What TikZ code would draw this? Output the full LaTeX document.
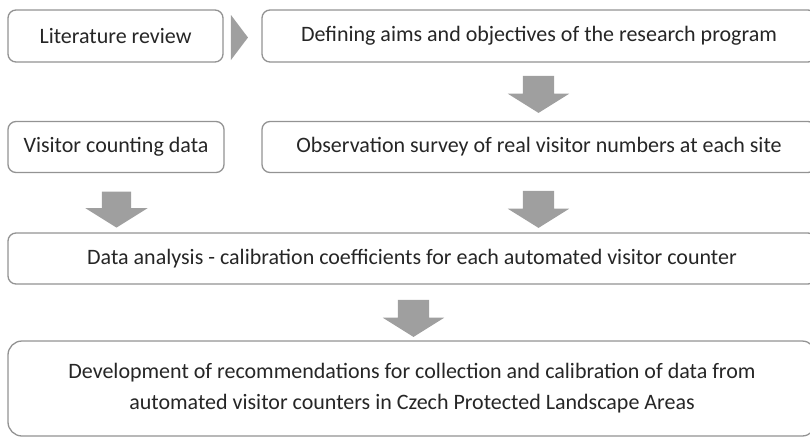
\documentclass[tikz,border=0pt]{standalone}
\usepackage{fontspec}
\setmainfont{Carlito}
\usepackage{tikz}
\usetikzlibrary{shapes,arrows,positioning}

\begin{document}
\begin{tikzpicture}[x=1pt, y=-1pt]
  % Research workflow
  \tikzstyle{stage} = [rectangle, rounded corners=8pt, draw=gray!85, line width=1.3pt, fill=white, font=\fontsize{22}{31}\selectfont, text=black!85, align=center]
  \tikzstyle{bigstage} = [stage, rounded corners=14pt]
  \tikzstyle{down} = [single arrow, fill=gray!75, draw=none, rotate=-90, minimum height=37pt, inner xsep=0pt, inner ysep=15.5pt, single arrow head extend=15pt, single arrow tip angle=116]
  \tikzstyle{side} = [isosceles triangle, isosceles triangle stretches, fill=gray!75, draw=none, minimum width=45pt, minimum height=17pt, inner sep=0pt]

  \useasboundingbox (0,0) rectangle (810,439);

  % First row
  \node[stage, minimum width=215pt, minimum height=52pt] (review) at (115.5, 36) {Literature review};
  \node[side] (next) at (238.5, 37.5) {};
  \node[stage, minimum width=554pt, minimum height=52pt] (aims) at (539, 36) {Defining aims and objectives of the research program};

  % Second row
  \node[down] (arrA) at (538.5, 89.5) {};
  \node[stage, minimum width=216pt, minimum height=51pt] (counts) at (116, 147) {Visitor counting data};
  \node[stage, minimum width=554pt, minimum height=51pt] (survey) at (539, 147) {Observation survey of real visitor numbers at each site};

  % Analysis
  \node[down, minimum height=36pt, inner ysep=14.5pt, single arrow head extend=16.5pt] (arrB) at (116.5, 205) {};
  \node[down] (arrC) at (538.5, 204.5) {};
  \node[stage, minimum width=808pt, minimum height=51pt] (analysis) at (412, 258.5) {Data analysis - calibration coefficients for each automated visitor counter};

  % Outcome
  \node[down] (arrD) at (413.5, 313.5) {};
  \node[bigstage, minimum width=808pt, minimum height=95pt] (recomm) at (412, 388.5) {Development of recommendations for collection and calibration of data from\\automated visitor counters in Czech Protected Landscape Areas};

\end{tikzpicture}
\end{document}
